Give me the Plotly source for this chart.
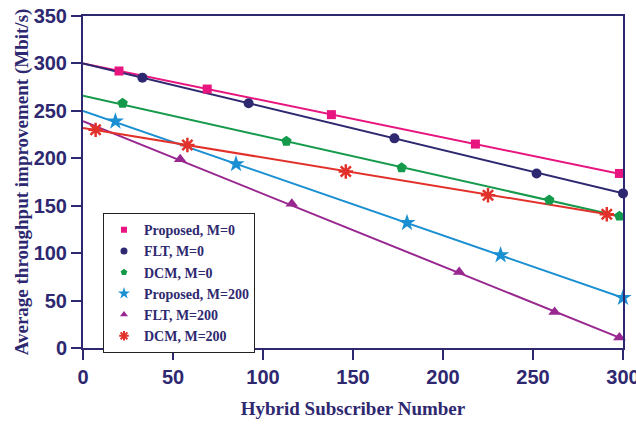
import plotly.graph_objects as go

# ---- data ----
names = ["Proposed, M=0", "FLT, M=0", "DCM, M=0", "Proposed, M=200", "FLT, M=200", "DCM, M=200"]

# line vertices (start at 0, end at 300)
prop0_line_x = [0, 300]
prop0_line_y = [300, 183]
flt0_line_x = [0, 300]
flt0_line_y = [300, 163]
dcm0_line_x = [0, 298]
dcm0_line_y = [266, 139]
prop200_line_x = [0, 300]
prop200_line_y = [250, 53]
flt200_line_x = [0, 298]
flt200_line_y = [239, 11]
dcm200_line_x = [0, 298]
dcm200_line_y = [232, 139]

# marker points
prop0_mx = [20, 69, 138, 218, 298]
prop0_my = [292, 273, 246, 215, 184]
flt0_mx = [33, 92, 173, 252, 300]
flt0_my = [285, 258, 221, 184, 163]
dcm0_mx = [22, 113, 177, 259, 298]
dcm0_my = [258, 218, 190, 156, 139]
prop200_mx = [18, 85, 180, 232, 300]
prop200_my = [239, 194, 132, 98, 53]
flt200_mx = [54, 116, 209, 262, 298]
flt200_my = [199, 152, 80, 38, 11]
dcm200_mx = [7, 58, 146, 225, 291]
dcm200_my = [230, 214, 186, 161, 141]

x_ticks = [0, 50, 100, 150, 200, 250, 300]
y_ticks = [0, 50, 100, 150, 200, 250, 300, 350]

colors = ["#e8147f", "#2e2870", "#149a4a", "#1a8fd2", "#98278f", "#e2312a"]
symbols = ["square", "circle", "pentagon", "star", "triangle-up", "asterisk-open"]
sizes = [9, 10, 11, 13, 11, 12]
legend_sizes = [6, 7, 7, 9, 7, 8]

lines = [
    (prop0_line_x, prop0_line_y, prop0_mx, prop0_my),
    (flt0_line_x, flt0_line_y, flt0_mx, flt0_my),
    (dcm0_line_x, dcm0_line_y, dcm0_mx, dcm0_my),
    (prop200_line_x, prop200_line_y, prop200_mx, prop200_my),
    (flt200_line_x, flt200_line_y, flt200_mx, flt200_my),
    (dcm200_line_x, dcm200_line_y, dcm200_mx, dcm200_my),
]

navy = "#2e2870"

fig = go.Figure()
for i, (lx, ly, mx, my) in enumerate(lines):
    fig.add_trace(go.Scatter(x=lx, y=ly, mode="lines",
                             line=dict(color=colors[i], width=2),
                             showlegend=False, hoverinfo="skip", cliponaxis=False))
for i, (lx, ly, mx, my) in enumerate(lines):
    mk = dict(color=colors[i], size=sizes[i], symbol=symbols[i])
    if symbols[i] == "asterisk-open":
        mk["line"] = dict(color=colors[i], width=2.5)
    fig.add_trace(go.Scatter(x=mx, y=my, mode="markers", marker=mk,
                             showlegend=False, cliponaxis=False))
for i in range(6):
    mk = dict(color=colors[i], size=legend_sizes[i], symbol=symbols[i])
    if symbols[i] == "asterisk-open":
        mk["line"] = dict(color=colors[i], width=2)
    fig.add_trace(go.Scatter(x=[None], y=[None], mode="markers", marker=mk,
                             name=names[i], showlegend=True))

tickfont = dict(family="Liberation Sans Narrow, Arial Narrow, Liberation Sans, sans-serif",
                size=20, color=navy, weight="bold")
titlefont = dict(family="Liberation Serif, Times New Roman, serif",
                 size=19, color=navy, weight="bold")

fig.update_layout(
    width=636, height=425,
    margin=dict(l=83, r=13, t=16, b=77),
    paper_bgcolor="white", plot_bgcolor="white",
    xaxis=dict(range=[0, 300], tickvals=x_ticks, ticks="outside", ticklen=10,
               tickwidth=2, tickcolor=navy, showline=True, linewidth=2,
               linecolor=navy, mirror=True, showgrid=False, zeroline=False,
               tickfont=tickfont, automargin=False, ticklabeloverflow="allow",
               title=dict(text="Hybrid Subscriber Number", font=titlefont, standoff=15)),
    yaxis=dict(range=[0, 350], tickvals=y_ticks, ticks="outside", ticklen=10,
               tickwidth=2, tickcolor=navy, showline=True, linewidth=2,
               linecolor=navy, mirror=True, showgrid=False, zeroline=False,
               tickfont=tickfont, ticklabelstandoff=0, automargin=False,
               ticklabeloverflow="allow",
               title=dict(text="Average throughput improvement (Mbit/s)",
                          font=titlefont, standoff=0)),
    legend=dict(x=0.037, y=0.406, xanchor="left", yanchor="top",
                bgcolor="white", bordercolor="#222222", borderwidth=1,
                font=dict(family="Liberation Serif, Times New Roman, serif",
                          size=14, color=navy, weight="bold"),
                itemwidth=30, tracegroupgap=0),
)

fig.write_html("out.html", config={"displayModeBar": False},
               post_script="document.body.style.margin='0';document.body.style.padding='0';")
